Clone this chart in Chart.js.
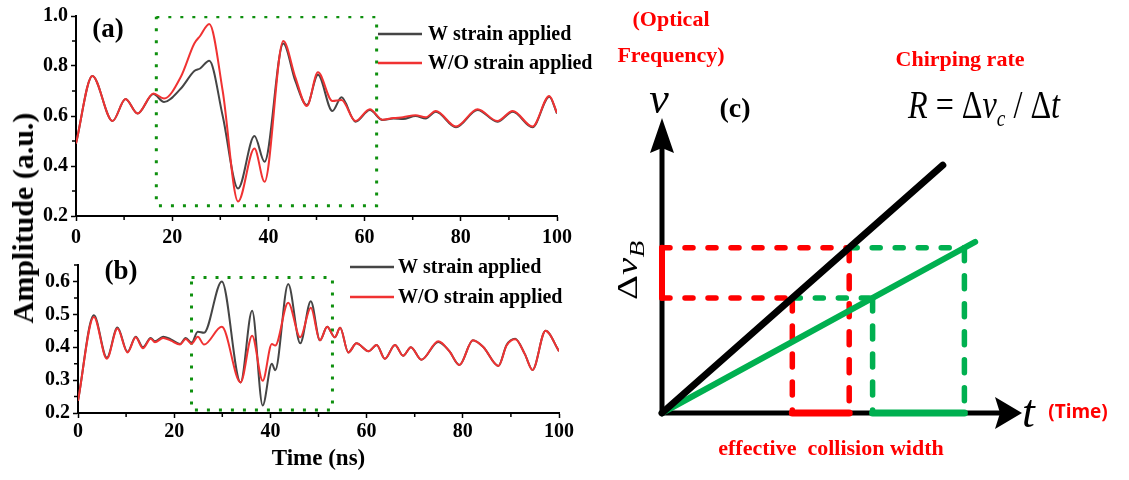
<!DOCTYPE html>
<html>
<head>
<meta charset="utf-8">
<script src="https://cdn.jsdelivr.net/npm/chart.js@4.4.1/dist/chart.umd.min.js"></script>
<style>
  body { margin: 0; background: #fff; }
  #fig { position: relative; width: 1129px; height: 480px; overflow: hidden; }
  #fig canvas { position: absolute; }
  #ampTitle {
    position: absolute; left: 23px; top: 218px;
    transform: translate(-50%, -50%) rotate(-90deg);
    font: bold 30px "Liberation Serif", serif; color: #000; white-space: nowrap;
  }
</style>
</head>
<body>
<div id="fig">
  <canvas id="chartA" width="605" height="250" style="left:0;top:0"></canvas>
  <canvas id="chartB" width="605" height="230" style="left:0;top:250px"></canvas>
  <canvas id="chartC" width="539" height="480" style="left:590px;top:0"></canvas>
  <div id="ampTitle">Amplitude (a.u.)</div>
</div>
<script>
// (a) time knots in ns and amplitudes
const timeA = [0, 3.4, 7.6, 10.3, 12.8, 16.1, 18.3, 21.8, 24.6, 25.8, 27.7, 30.5, 33.7, 37.1, 39.2, 43.1, 45.6, 48.0, 50.3, 53.3,
               55.2, 58.1, 61.1, 63.7, 66.0, 68.0, 70.6, 72.7, 74.8, 79.0, 83.5, 87.6, 90.8, 94.9, 98.4, 100];
const strainA = [0.49, 0.76, 0.58, 0.668, 0.61, 0.688, 0.656, 0.71, 0.78, 0.79, 0.821, 0.60, 0.31, 0.52, 0.417, 0.89, 0.74, 0.644, 0.765, 0.62,
                 0.675, 0.577, 0.624, 0.584, 0.59, 0.588, 0.6, 0.59, 0.617, 0.555, 0.624, 0.577, 0.617, 0.555, 0.677, 0.61];
const noStrainA = [0.49, 0.76, 0.58, 0.668, 0.61, 0.69, 0.67, 0.757, 0.89, 0.92, 0.968, 0.70, 0.258, 0.47, 0.337, 0.90, 0.755, 0.64, 0.775, 0.66,
                   0.664, 0.58, 0.627, 0.585, 0.592, 0.595, 0.603, 0.595, 0.62, 0.558, 0.627, 0.58, 0.62, 0.558, 0.68, 0.612];
const windowTimeA = [16.7, 62.5];
const windowAmpA = [0.241, 0.997];

// (b)
const timeB = [0, 3.3, 6.0, 8.2, 10.3, 12.0, 13.5, 15.1, 16.0, 17.7, 19.3, 21.2, 22.4, 23.6, 24.9, 26.2, 29.9, 33.8, 36.2, 38.4,
               40.3, 41.0, 43.7, 46.2, 48.4, 50.3, 51.8, 53.4, 54.5, 56.2, 57.9, 60.4, 62.1, 63.8, 65.9, 67.6, 69.2, 71.4, 74.9, 77.2,
               79.3, 82.1, 84.3, 87.4, 89.1, 90.9, 92.9, 94.5, 97.2, 100];
const strainB = [0.237, 0.497, 0.368, 0.46, 0.386, 0.432, 0.4, 0.428, 0.418, 0.432, 0.424, 0.41, 0.428, 0.413, 0.447, 0.444, 0.6, 0.293, 0.511, 0.223,
                 0.35, 0.33, 0.592, 0.412, 0.54, 0.421, 0.462, 0.43, 0.459, 0.384, 0.412, 0.388, 0.407, 0.365, 0.407, 0.374, 0.4, 0.362, 0.416, 0.388,
                 0.346, 0.421, 0.4, 0.343, 0.407, 0.426, 0.379, 0.331, 0.45, 0.388];
const noStrainB = [0.237, 0.492, 0.365, 0.457, 0.384, 0.43, 0.397, 0.426, 0.415, 0.428, 0.42, 0.408, 0.425, 0.41, 0.432, 0.408, 0.462, 0.293, 0.435, 0.298,
                   0.41, 0.405, 0.535, 0.43, 0.52, 0.421, 0.462, 0.43, 0.459, 0.384, 0.412, 0.388, 0.407, 0.365, 0.407, 0.374, 0.4, 0.362, 0.418, 0.388,
                   0.346, 0.421, 0.4, 0.343, 0.405, 0.424, 0.379, 0.331, 0.45, 0.388];
const windowTimeB = [23.6, 52.9];
const windowAmpB = [0.209, 0.612];

// (c) chirp sketch, arbitrary units
const fastT = [0, 7.8], fastNu = [0, 8.4];
const slowT = [0, 8.7], slowNu = [0, 5.8];
const levels = [3.9, 5.6];          // the two Brillouin frequencies
const fastCross = [3.62, 5.2];      // where the steep chirp meets them
const slowCross = [5.85, 8.4];      // where the slow chirp meets them

const GREY = '#454545';
const RED = '#f03232';
const DOT_GREEN = '#0f900f';
const SERIF = '"Liberation Serif", "Times New Roman", serif';

Chart.defaults.font.family = SERIF;

function pts(xs, ys) {
  return xs.map((x, i) => ({x: x, y: ys[i]}));
}

function boxPts(ts, amps) {
  return pts([ts[0], ts[1], ts[1], ts[0], ts[0]], [amps[1], amps[1], amps[0], amps[0], amps[1]]);
}

// minor ticks, panel tag and legend for the two trace panels
const panelDecor = {
  id: 'panelDecor',
  afterDraw(chart, args, o) {
    const {ctx, chartArea: area, scales: {x, y}} = chart;
    ctx.save();
    ctx.strokeStyle = '#000';
    ctx.lineWidth = 1.5;
    ctx.beginPath();
    for (let v = o.minorX[0]; v <= x.max + 1e-6; v += o.minorX[1]) {
      const px = x.getPixelForValue(v);
      ctx.moveTo(px, area.bottom);
      ctx.lineTo(px, area.bottom + 4);
    }
    for (let v = o.minorY[0]; v <= y.max + 1e-6; v += o.minorY[1]) {
      const py = y.getPixelForValue(v);
      ctx.moveTo(area.left, py);
      ctx.lineTo(area.left - 4, py);
    }
    ctx.stroke();

    ctx.fillStyle = '#000';
    ctx.font = 'bold 27px ' + SERIF;
    ctx.textAlign = 'center';
    ctx.textBaseline = 'middle';
    ctx.fillText(o.tag, o.tagX, o.tagY);

    ctx.font = 'bold 20px ' + SERIF;
    ctx.textAlign = 'left';
    o.legendOrder.forEach((idx, i) => {
      const ds = chart.data.datasets[idx];
      const ly = o.legendY[i];
      ctx.strokeStyle = ds.borderColor;
      ctx.lineWidth = 2.5;
      ctx.beginPath();
      ctx.moveTo(o.legendX[0], ly);
      ctx.lineTo(o.legendX[1], ly);
      ctx.stroke();
      ctx.fillStyle = '#000';
      ctx.fillText(ds.label, o.legendX[2], ly + 1);
    });
    ctx.restore();
  }
};

function traceChart(id, time, strain, noStrain, winT, winAmp, cfg) {
  const tickFont = {family: SERIF, size: 20, weight: 'bold'};
  return new Chart(id, {
    type: 'line',
    data: {
      datasets: [
        {label: 'W/O strain applied', data: pts(time, noStrain), borderColor: RED, borderWidth: 2,
         cubicInterpolationMode: 'monotone', pointRadius: 0, order: 0},
        {label: 'W strain applied', data: pts(time, strain), borderColor: GREY, borderWidth: 2,
         cubicInterpolationMode: 'monotone', pointRadius: 0, order: 1},
        {label: 'window', data: boxPts(winT, winAmp), borderColor: DOT_GREEN, borderWidth: 3,
         borderDash: [3, 9], borderCapStyle: 'butt', pointRadius: 0, order: 2}
      ]
    },
    options: {
      responsive: false,
      animation: false,
      devicePixelRatio: 1,
      layout: {padding: cfg.padding},
      plugins: {
        legend: {display: false},
        tooltip: {enabled: false},
        panelDecor: cfg.decor
      },
      scales: {
        x: {
          type: 'linear', min: 0, max: 100,
          ticks: {stepSize: 20, font: tickFont, color: '#000', padding: cfg.xPad, maxRotation: 0},
          grid: {drawOnChartArea: false, tickLength: 5, tickColor: '#000', tickWidth: 1.5},
          border: {color: '#000', width: 2},
          title: cfg.xTitle || {display: false},
          afterFit: s => { s.height = cfg.xHeight; }
        },
        y: {
          min: cfg.yMin, max: cfg.yMax,
          ticks: {stepSize: cfg.yStep, includeBounds: false, font: tickFont, color: '#000', padding: 3,
                  callback: v => v.toFixed(1)},
          grid: {drawOnChartArea: false, tickLength: 5, tickColor: '#000', tickWidth: 1.5},
          border: {color: '#000', width: 2},
          afterFit: s => { s.width = cfg.yWidth; }
        }
      }
    },
    plugins: [panelDecor]
  });
}

traceChart('chartA', timeA, strainA, noStrainA, windowTimeA, windowAmpA, {
  padding: {left: 0, top: 16, right: 48, bottom: 0},
  xHeight: 34, yWidth: 76, xPad: 5,
  yMin: 0.2, yMax: 1.0, yStep: 0.2,
  decor: {minorX: [10, 20], minorY: [0.3, 0.2], tag: '(a)', tagX: 108, tagY: 30,
          legendOrder: [1, 0], legendX: [378, 422, 428], legendY: [34, 63]}
});

traceChart('chartB', timeB, strainB, noStrainB, windowTimeB, windowAmpB, {
  padding: {left: 0, top: 5, right: 46, bottom: 0},
  xHeight: 67, yWidth: 78, xPad: 2,
  yMin: 0.2, yMax: 0.65, yStep: 0.1,
  xTitle: {display: true, text: 'Time (ns)', color: '#000',
           font: {family: SERIF, size: 23, weight: 'bold'}, padding: {top: 0, bottom: 7}},
  decor: {minorX: [10, 20], minorY: [0.25, 0.1], tag: '(b)', tagX: 121, tagY: 22,
          legendOrder: [1, 0], legendX: [350, 394, 398], legendY: [17, 47]}
});

// (c): arrows for the axes and the annotation text
const chirpSketch = {
  id: 'chirpSketch',
  beforeDatasetsDraw(chart) {
    const {ctx, chartArea: a} = chart;
    ctx.save();
    ctx.fillStyle = '#000';
    ctx.strokeStyle = '#000';
    ctx.lineWidth = 5;
    ctx.beginPath();
    ctx.moveTo(a.left, a.bottom + 2.5);
    ctx.lineTo(a.left, a.top + 30);
    ctx.moveTo(a.left - 2.5, a.bottom);
    ctx.lineTo(a.right - 22, a.bottom);
    ctx.stroke();
    ctx.beginPath();
    ctx.moveTo(a.left, a.top);
    ctx.lineTo(a.left - 12, a.top + 35);
    ctx.lineTo(a.left, a.top + 30);
    ctx.lineTo(a.left + 12, a.top + 35);
    ctx.closePath();
    ctx.fill();
    ctx.beginPath();
    ctx.moveTo(a.right, a.bottom);
    ctx.lineTo(a.right - 27, a.bottom - 16);
    ctx.lineTo(a.right - 22, a.bottom);
    ctx.lineTo(a.right - 27, a.bottom + 16);
    ctx.closePath();
    ctx.fill();
    ctx.restore();
  },
  afterDraw(chart) {
    const ctx = chart.ctx;
    ctx.save();
    ctx.textBaseline = 'middle';
    ctx.textAlign = 'center';
    ctx.fillStyle = '#ff0000';
    ctx.font = 'bold 22px ' + SERIF;
    ctx.fillText('(Optical', 81, 20);
    ctx.fillText('Frequency)', 81, 56);
    ctx.fillText('Chirping rate', 370, 60);
    ctx.fillText('effective  collision width', 241, 449);
    ctx.font = 'bold 19px "Open Sans", sans-serif';
    ctx.fillText('(Time)', 488, 413);

    ctx.fillStyle = '#000';
    ctx.font = 'bold 28px ' + SERIF;
    ctx.fillText('(c)', 145, 110);
    ctx.textBaseline = 'alphabetic';
    ctx.font = 'italic 44px ' + SERIF;
    ctx.fillText('ν', 69, 113);
    ctx.textAlign = 'left';
    ctx.font = 'italic 46px ' + SERIF;
    ctx.fillText('t', 432, 427);

    // R = Δν_c / Δt, squeezed to the printed width
    const parts = [
      ['R', 'italic 40px', 0], [' = ', '40px', 0], ['Δ', '40px', 0], ['ν', 'italic 40px', 0],
      ['c', 'italic 24px', 8], [' / ', '40px', 0], ['Δ', '40px', 0], ['t', 'italic 40px', 0]
    ];
    let total = 0;
    parts.forEach(p => { ctx.font = p[1] + ' ' + SERIF; total += ctx.measureText(p[0]).width; });
    ctx.save();
    ctx.translate(318, 118);
    ctx.scale(152 / total, 1);
    let cx = 0;
    parts.forEach(p => {
      ctx.font = p[1] + ' ' + SERIF;
      ctx.fillText(p[0], cx, p[2]);
      cx += ctx.measureText(p[0]).width;
    });
    ctx.restore();

    // Δν_B along the frequency axis
    ctx.save();
    ctx.translate(47, 300);
    ctx.rotate(-Math.PI / 2);
    ctx.scale(1.3, 1);
    ctx.font = '30px ' + SERIF;
    ctx.fillText('Δ', 0, 0);
    let w = ctx.measureText('Δ').width;
    ctx.font = 'italic 30px ' + SERIF;
    ctx.fillText('ν', w, 0);
    w += ctx.measureText('ν').width;
    ctx.font = 'italic 21px ' + SERIF;
    ctx.fillText('B', w, 7);
    ctx.restore();
    ctx.restore();
  }
};

function stroke(data, color, width, dash, order) {
  return {data: data, borderColor: color, borderWidth: width, borderDash: dash || [],
          borderCapStyle: 'round', showLine: true, pointRadius: 0, clip: false, order: order};
}

const CRED = '#ff0000', CGREEN = '#00b050';
const hDash = [8, 15], vDash = [13, 15];

new Chart('chartC', {
  type: 'scatter',
  data: {
    datasets: [
      stroke(pts([0, 0], levels), CRED, 6, null, 0),
      stroke(pts(fastCross, [0, 0]), CRED, 7, null, 0),
      stroke(pts(slowCross, [0, 0]), CGREEN, 7, null, 0),
      stroke(pts(fastT, fastNu), '#000', 7, null, 1),
      stroke(pts(slowT, slowNu), CGREEN, 6, null, 1),
      stroke(pts([0, fastCross[1]], [levels[1], levels[1]]), CRED, 5.5, hDash, 2),
      stroke(pts([0, fastCross[0]], [levels[0], levels[0]]), CRED, 5.5, hDash, 2),
      stroke(pts([fastCross[1], slowCross[1]], [levels[1], levels[1]]), CGREEN, 5.5, hDash, 2),
      stroke(pts([fastCross[0], slowCross[0]], [levels[0], levels[0]]), CGREEN, 5.5, hDash, 2),
      stroke(pts([fastCross[0], fastCross[0]], [levels[0], 0]), CRED, 5.5, vDash, 2),
      stroke(pts([fastCross[1], fastCross[1]], [levels[1], 0]), CRED, 5.5, vDash, 2),
      stroke(pts([slowCross[0], slowCross[0]], [levels[0], 0]), CGREEN, 5.5, vDash, 2),
      stroke(pts([slowCross[1], slowCross[1]], [levels[1], 0]), CGREEN, 5.5, vDash, 2)
    ]
  },
  options: {
    responsive: false,
    animation: false,
    devicePixelRatio: 1,
    layout: {padding: {left: 72, right: 107, top: 118, bottom: 67}},
    plugins: {legend: {display: false}, tooltip: {enabled: false}},
    scales: {
      x: {type: 'linear', min: 0, max: 10, display: false},
      y: {type: 'linear', min: 0, max: 10, display: false}
    }
  },
  plugins: [chirpSketch]
});
</script>
</body>
</html>
